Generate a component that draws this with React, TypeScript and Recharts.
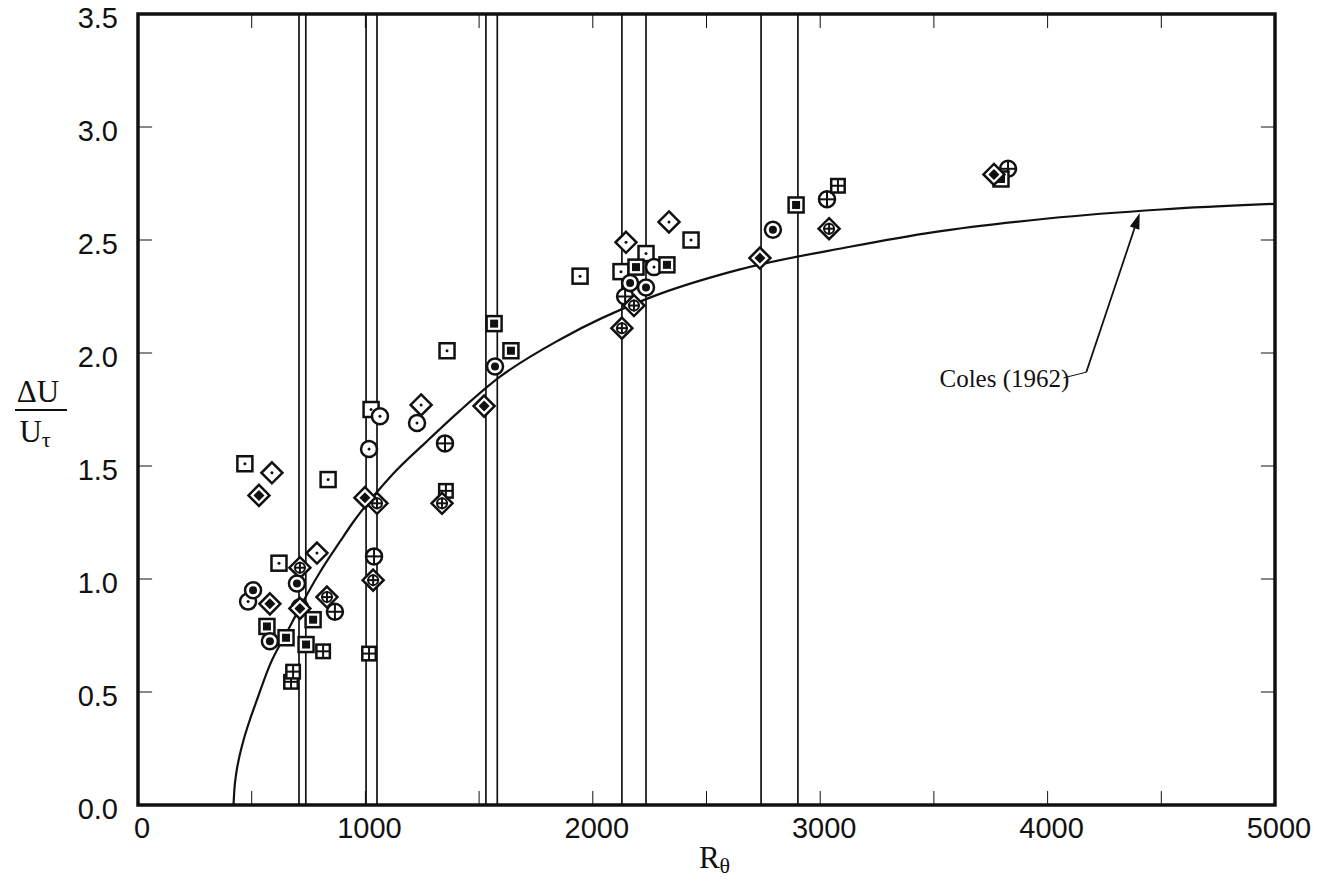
import React from "react"
import { ScatterChart, Scatter, XAxis, YAxis, ReferenceLine, ReferenceDot, ReferenceArea } from "recharts"

const X_TICKS = [0, 500, 1000, 1500, 2000, 2500, 3000, 3500, 4000, 4500, 5000]
const Y_TICKS = [0, 0.5, 1.0, 1.5, 2.0, 2.5, 3.0, 3.5]

// stations where the profiles were taken
const STATIONS = [708, 738, 1003, 1051, 1530, 1580, 2128, 2234, 2740, 2902]

// Coles (1962) curve
const colesRe = [420, 424, 432, 445, 465, 493, 523, 580, 655, 726, 800, 888, 945, 1051, 1121, 1271, 1416, 1592, 1856, 2251, 2647, 3131, 3500, 4000, 4500, 5000]
const colesDu = [0, 0.07, 0.14, 0.21, 0.29, 0.38, 0.465, 0.62, 0.765, 0.9, 1.03, 1.165, 1.25, 1.385, 1.465, 1.61, 1.745, 1.895, 2.06, 2.245, 2.37, 2.47, 2.535, 2.595, 2.635, 2.66]

const squareDot = [[470, 1.51], [620, 1.07], [836, 1.44], [1025, 1.75], [1359, 2.01], [1944, 2.34], [2124, 2.36], [2234, 2.44], [2432, 2.5]]
const diamondDot = [[589, 1.47], [787, 1.115], [1245, 1.77], [2146, 2.49], [2335, 2.58]]
const circleDot = [[484, 0.9], [1064, 1.72], [1016, 1.575], [1227, 1.69], [2269, 2.38]]
const circleFilled = [[506, 0.95], [699, 0.98], [580, 0.725], [712, 0.875], [1570, 1.94], [2234, 2.29], [2164, 2.31], [2792, 2.545]]
const squareFilled = [[567, 0.79], [651, 0.74], [739, 0.71], [770, 0.82], [1566, 2.13], [1640, 2.01], [2190, 2.38], [2326, 2.39], [2894, 2.655], [3795, 2.77]]
const diamondFilled = [[532, 1.37], [580, 0.89], [712, 0.87], [998, 1.36], [1522, 1.765], [2735, 2.42], [3764, 2.79]]
const circlePlus = [[866, 0.855], [1038, 1.1], [1350, 1.6], [2142, 2.25], [3030, 2.68], [3826, 2.815]]
const diamondPlus = [[712, 1.05], [831, 0.92], [1034, 0.995], [1051, 1.335], [1337, 1.335], [2128, 2.11], [2181, 2.21], [3039, 2.55]]
const squareGrid = [[673, 0.545], [682, 0.59], [814, 0.68], [1016, 0.67], [1354, 1.39], [3078, 2.74]]

// annotation anchor points (data units)
const LABEL_AT = { x: 3810, y: 1.89 }
const ARROW_PTS = [{ x: 4070, y: 1.89 }, { x: 4170, y: 1.915 }, { x: 4405, y: 2.62 }]

// inward tick length, in data units of each axis
const TICK_DX = 62
const TICK_DY = 0.062

const toPts = (arr: number[][]) => arr.map(([x, y]) => ({ x, y }))
const colesData = colesRe.map((x, i) => ({ x, y: colesDu[i] }))

const INK = "#111"
const sansFont = "'Liberation Sans', Arial, Helvetica, sans-serif"
const serifFont = "'Liberation Serif', 'Times New Roman', serif"

type Kind = "squareDot" | "diamondDot" | "circleDot" | "circleFilled" | "squareFilled" | "diamondFilled" | "circlePlus" | "diamondPlus" | "squareGrid"

function marker(kind: Kind) {
  return (props: any) => {
    const { cx, cy } = props
    if (cx == null || cy == null) return <g />
    const sw = 2.5
    const dia = (h: number) => `${cx},${cy - h} ${cx + h},${cy} ${cx},${cy + h} ${cx - h},${cy}`
    switch (kind) {
      case "squareDot":
        return (
          <g>
            <rect x={cx - 7.5} y={cy - 7.5} width={15} height={15} fill="#fff" stroke={INK} strokeWidth={sw} />
            <circle cx={cx} cy={cy} r={1.5} fill={INK} />
          </g>
        )
      case "squareFilled":
        return (
          <g>
            <rect x={cx - 7.5} y={cy - 7.5} width={15} height={15} fill="#fff" stroke={INK} strokeWidth={sw} />
            <rect x={cx - 4} y={cy - 4} width={8} height={8} fill={INK} />
          </g>
        )
      case "diamondDot":
        return (
          <g>
            <polygon points={dia(10.5)} fill="#fff" stroke={INK} strokeWidth={sw} />
            <circle cx={cx} cy={cy} r={1.5} fill={INK} />
          </g>
        )
      case "diamondFilled":
        return (
          <g>
            <polygon points={dia(10.5)} fill="#fff" stroke={INK} strokeWidth={sw} />
            <polygon points={dia(5.5)} fill={INK} />
          </g>
        )
      case "diamondPlus":
        return (
          <g>
            <polygon points={dia(10.5)} fill="#fff" stroke={INK} strokeWidth={sw} />
            <circle cx={cx} cy={cy} r={5} fill="none" stroke={INK} strokeWidth={2} />
            <line x1={cx - 6} y1={cy} x2={cx + 6} y2={cy} stroke={INK} strokeWidth={2} />
            <line x1={cx} y1={cy - 6} x2={cx} y2={cy + 6} stroke={INK} strokeWidth={2} />
          </g>
        )
      case "circleDot":
        return (
          <g>
            <circle cx={cx} cy={cy} r={8} fill="#fff" stroke={INK} strokeWidth={sw} />
            <circle cx={cx} cy={cy} r={1.5} fill={INK} />
          </g>
        )
      case "circleFilled":
        return (
          <g>
            <circle cx={cx} cy={cy} r={8} fill="#fff" stroke={INK} strokeWidth={sw} />
            <circle cx={cx} cy={cy} r={4} fill={INK} />
          </g>
        )
      case "circlePlus":
        return (
          <g>
            <circle cx={cx} cy={cy} r={8} fill="#fff" stroke={INK} strokeWidth={sw} />
            <line x1={cx - 8} y1={cy} x2={cx + 8} y2={cy} stroke={INK} strokeWidth={2} />
            <line x1={cx} y1={cy - 8} x2={cx} y2={cy + 8} stroke={INK} strokeWidth={2} />
          </g>
        )
      case "squareGrid":
        return (
          <g>
            <rect x={cx - 8} y={cy - 8} width={16} height={16} fill={INK} />
            <rect x={cx - 5.5} y={cy - 5.5} width={4.5} height={4.5} fill="#fff" />
            <rect x={cx + 1} y={cy - 5.5} width={4.5} height={4.5} fill="#fff" />
            <rect x={cx - 5.5} y={cy + 1} width={4.5} height={4.5} fill="#fff" />
            <rect x={cx + 1} y={cy + 1} width={4.5} height={4.5} fill="#fff" />
          </g>
        )
    }
  }
}

const BottomTick = (props: any) => {
  const { x, y, payload } = props
  const v = payload.value
  if (v % 1000 !== 0) return <g />
  return (
    <text x={x + 4} y={y} dy="0.71em" textAnchor="middle" fontFamily={sansFont} fontSize={29} fill={INK}>
      {v}
    </text>
  )
}

const LeftTick = (props: any) => {
  const { x, y, payload } = props
  return (
    <text x={x} y={y + 4} dy="0.355em" textAnchor="end" fontFamily={sansFont} fontSize={29} fill={INK}>
      {payload.value.toFixed(1)}
    </text>
  )
}

const YLabel = () => (
  <g fontFamily={serifFont} fill={INK}>
    <text x={38} y={402} textAnchor="middle" fontSize={31}>ΔU</text>
    <line x1={15} y1={410} x2={67} y2={410} stroke={INK} strokeWidth={2.2} />
    <text x={35} y={442} textAnchor="middle" fontSize={31}>
      U<tspan fontSize={22} dy={5}>τ</tspan>
    </text>
  </g>
)

const XLabel = (props: any) => {
  const vb = props.viewBox || {}
  const cx = (vb.x ?? 138) + (vb.width ?? 1137) / 2 + 8
  return (
    <text x={cx} y={868} textAnchor="middle" fontFamily={serifFont} fontSize={31} fill={INK}>
      R<tspan fontSize={22} dy={5}>θ</tspan>
    </text>
  )
}

const ArrowShape = (props: any) => {
  const { x1, y1, x2, y2 } = props
  const ang = Math.atan2(y2 - y1, x2 - x1)
  const L = 16
  const W = 5
  const bx = x2 - L * Math.cos(ang)
  const by = y2 - L * Math.sin(ang)
  const px = -Math.sin(ang) * W
  const py = Math.cos(ang) * W
  return (
    <g>
      <line x1={x1} y1={y1} x2={bx} y2={by} stroke={INK} strokeWidth={1.8} />
      <polygon points={`${x2},${y2} ${bx + px},${by + py} ${bx - px},${by - py}`} fill={INK} />
    </g>
  )
}

const PlainSegment = (props: any) => {
  const { x1, y1, x2, y2 } = props
  return <line x1={x1} y1={y1} x2={x2} y2={y2} stroke={INK} strokeWidth={props.strokeWidth ?? 1.8} />
}

const ColesText = (props: any) => (
  <text x={props.cx} y={props.cy} dy="0.35em" textAnchor="middle" fontFamily={serifFont} fontSize={25} fill={INK}>
    Coles (1962)
  </text>
)

const SERIES: [Kind, number[][]][] = [
  ["squareDot", squareDot],
  ["diamondDot", diamondDot],
  ["circleDot", circleDot],
  ["circlePlus", circlePlus],
  ["squareGrid", squareGrid],
  ["diamondPlus", diamondPlus],
  ["squareFilled", squareFilled],
  ["circleFilled", circleFilled],
  ["diamondFilled", diamondFilled],
]

const xMax = X_TICKS[X_TICKS.length - 1]
const yMax = Y_TICKS[Y_TICKS.length - 1]

export default function App() {
  return (
    <div style={{ position: "absolute", left: 0, top: 0, background: "#fff" }}>
      <ScatterChart width={1324} height={887} margin={{ top: 14, right: 49, bottom: 0, left: 0 }}>
        <XAxis
          type="number"
          dataKey="x"
          domain={[0, xMax]}
          ticks={X_TICKS}
          interval={0}
          height={82}
          tickSize={0}
          tickMargin={12}
          tick={<BottomTick />}
          axisLine={false}
          tickLine={false}
          allowDataOverflow
          label={{ content: <XLabel /> }}
        />
        <YAxis
          type="number"
          dataKey="y"
          domain={[0, yMax]}
          ticks={Y_TICKS}
          interval={0}
          width={138}
          tickSize={0}
          tickMargin={20}
          tick={<LeftTick />}
          axisLine={false}
          tickLine={false}
          allowDataOverflow
          label={{ content: <YLabel /> }}
        />
        <ReferenceArea x1={0} x2={xMax} y1={0} y2={yMax} fill="none" stroke={INK} strokeWidth={3.5} />
        {X_TICKS.slice(1, -1).map((t) => (
          <ReferenceLine key={"b" + t} segment={[{ x: t, y: 0 }, { x: t, y: TICK_DY }]} shape={<PlainSegment strokeWidth={2} />} />
        ))}
        {X_TICKS.slice(1, -1).map((t) => (
          <ReferenceLine key={"t" + t} segment={[{ x: t, y: yMax }, { x: t, y: yMax - TICK_DY }]} shape={<PlainSegment strokeWidth={2} />} />
        ))}
        {Y_TICKS.slice(1, -1).map((t) => (
          <ReferenceLine key={"l" + t} segment={[{ x: 0, y: t }, { x: TICK_DX, y: t }]} shape={<PlainSegment strokeWidth={2} />} />
        ))}
        {Y_TICKS.slice(1, -1).map((t) => (
          <ReferenceLine key={"r" + t} segment={[{ x: xMax, y: t }, { x: xMax - TICK_DX, y: t }]} shape={<PlainSegment strokeWidth={2} />} />
        ))}
        {STATIONS.map((s) => (
          <ReferenceLine key={s} x={s} stroke={INK} strokeWidth={1.7} />
        ))}
        <Scatter
          name="Coles (1962)"
          data={colesData}
          line={{ stroke: INK, strokeWidth: 2.2 }}
          lineJointType="monotoneX"
          shape={() => <g />}
          isAnimationActive={false}
        />
        {SERIES.map(([kind, pts]) => (
          <Scatter key={kind} name={kind} data={toPts(pts)} shape={marker(kind)} isAnimationActive={false} />
        ))}
        <ReferenceLine segment={[ARROW_PTS[0], ARROW_PTS[1]]} shape={<PlainSegment />} />
        <ReferenceLine segment={[ARROW_PTS[1], ARROW_PTS[2]]} shape={<ArrowShape />} />
        <ReferenceDot x={LABEL_AT.x} y={LABEL_AT.y} r={0} shape={<ColesText />} />
      </ScatterChart>
    </div>
  )
}
